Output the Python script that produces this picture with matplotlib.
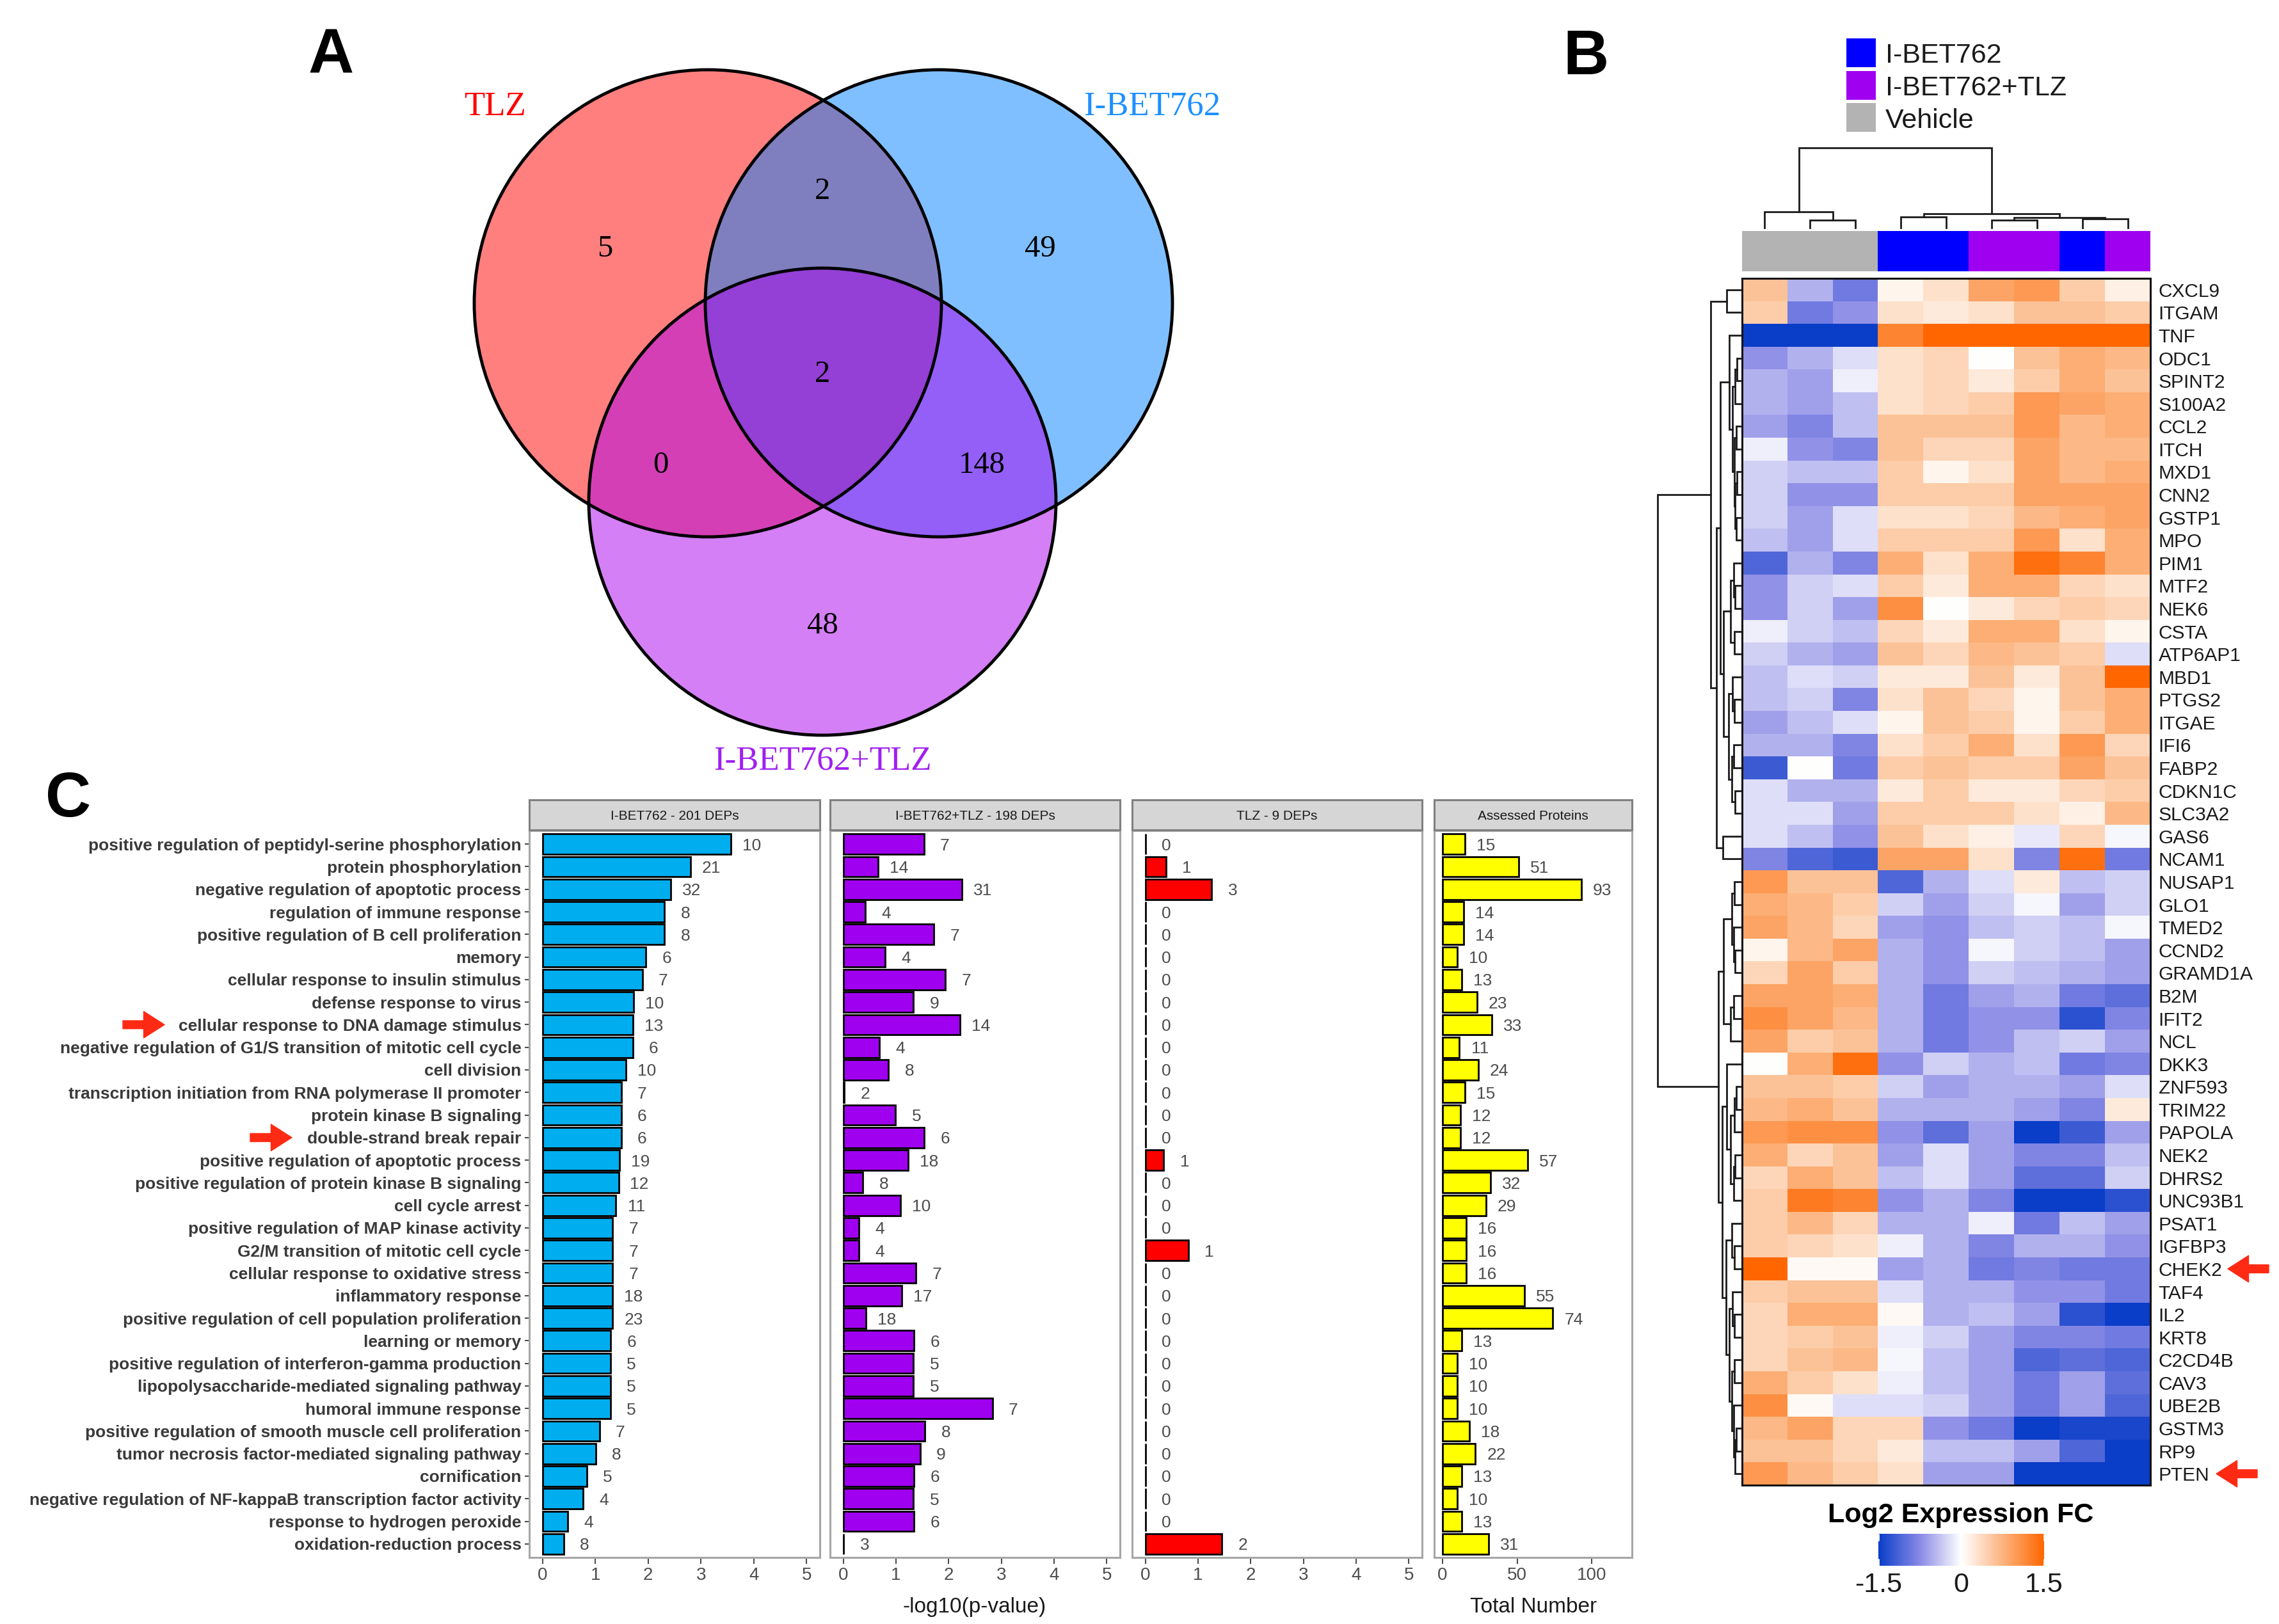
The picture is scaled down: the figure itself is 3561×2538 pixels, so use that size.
import numpy as np
import matplotlib
matplotlib.use('Agg')
import matplotlib.pyplot as plt
from matplotlib.patches import Circle, Rectangle
from matplotlib.colors import LinearSegmentedColormap, ListedColormap
import matplotlib.transforms as mtransforms

plt.rcParams['font.family'] = ['Liberation Sans', 'DejaVu Sans']

# ---------------- data ----------------
# Venn counts
venn_sets = ['TLZ', 'I-BET762', 'I-BET762+TLZ']
only_tlz, only_ibet, only_combo = 5, 49, 48
tlz_ibet, tlz_combo, ibet_combo, all_three = 2, 0, 148, 2

# heatmap
genes = ['CXCL9', 'ITGAM', 'TNF', 'ODC1', 'SPINT2', 'S100A2', 'CCL2', 'ITCH', 'MXD1', 'CNN2',
         'GSTP1', 'MPO', 'PIM1', 'MTF2', 'NEK6', 'CSTA', 'ATP6AP1', 'MBD1', 'PTGS2', 'ITGAE',
         'IFI6', 'FABP2', 'CDKN1C', 'SLC3A2', 'GAS6', 'NCAM1', 'NUSAP1', 'GLO1', 'TMED2', 'CCND2',
         'GRAMD1A', 'B2M', 'IFIT2', 'NCL', 'DKK3', 'ZNF593', 'TRIM22', 'PAPOLA', 'NEK2', 'DHRS2',
         'UNC93B1', 'PSAT1', 'IGFBP3', 'CHEK2', 'TAF4', 'IL2', 'KRT8', 'C2CD4B', 'CAV3', 'UBE2B',
         'GSTM3', 'RP9', 'PTEN']
col_groups = ['Vehicle', 'Vehicle', 'Vehicle', 'I-BET762', 'I-BET762',
              'I-BET762+TLZ', 'I-BET762+TLZ', 'I-BET762', 'I-BET762+TLZ']
hm_values = [
    [0.6, -0.5, -0.9, 0.1, 0.3, 0.9, 1.0, 0.5, 0.15],
    [0.5, -0.9, -0.7, 0.3, 0.2, 0.3, 0.6, 0.6, 0.5],
    [-1.5, -1.5, -1.5, 1.2, 1.5, 1.5, 1.5, 1.5, 1.5],
    [-0.7, -0.5, -0.2, 0.3, 0.4, 0.0, 0.6, 0.8, 0.7],
    [-0.5, -0.6, -0.1, 0.3, 0.4, 0.2, 0.5, 0.8, 0.6],
    [-0.5, -0.6, -0.4, 0.3, 0.4, 0.5, 1.0, 0.9, 0.8],
    [-0.6, -0.8, -0.4, 0.6, 0.6, 0.6, 1.0, 0.7, 0.8],
    [-0.1, -0.7, -0.8, 0.6, 0.4, 0.4, 0.9, 0.7, 0.7],
    [-0.3, -0.4, -0.4, 0.5, 0.1, 0.3, 0.9, 0.7, 0.8],
    [-0.3, -0.7, -0.7, 0.5, 0.5, 0.5, 0.9, 0.9, 0.9],
    [-0.3, -0.6, -0.2, 0.3, 0.3, 0.4, 0.7, 0.8, 0.9],
    [-0.4, -0.6, -0.2, 0.5, 0.5, 0.5, 1.0, 0.3, 0.8],
    [-1.1, -0.5, -0.8, 0.8, 0.3, 0.8, 1.4, 1.2, 0.8],
    [-0.7, -0.3, -0.2, 0.5, 0.2, 0.8, 0.8, 0.4, 0.3],
    [-0.7, -0.3, -0.6, 1.1, 0.0, 0.2, 0.4, 0.5, 0.4],
    [-0.1, -0.3, -0.4, 0.4, 0.2, 0.8, 0.8, 0.3, 0.1],
    [-0.3, -0.5, -0.6, 0.6, 0.4, 0.7, 0.6, 0.5, -0.2],
    [-0.4, -0.2, -0.3, 0.2, 0.2, 0.6, 0.2, 0.6, 1.5],
    [-0.4, -0.3, -0.8, 0.3, 0.6, 0.4, 0.1, 0.6, 0.8],
    [-0.6, -0.4, -0.2, 0.1, 0.6, 0.5, 0.1, 0.5, 0.8],
    [-0.5, -0.5, -0.8, 0.3, 0.5, 0.8, 0.3, 1.0, 0.4],
    [-1.2, 0.0, -0.9, 0.5, 0.6, 0.5, 0.5, 0.9, 0.6],
    [-0.2, -0.5, -0.5, 0.2, 0.5, 0.2, 0.2, 0.4, 0.5],
    [-0.2, -0.2, -0.6, 0.5, 0.5, 0.5, 0.3, 0.15, 0.7],
    [-0.2, -0.4, -0.7, 0.6, 0.3, 0.15, -0.15, 0.4, -0.05],
    [-0.8, -1.1, -1.2, 0.9, 0.9, 0.3, -0.8, 1.4, -0.9],
    [1.0, 0.6, 0.6, -1.1, -0.5, -0.2, 0.2, -0.4, -0.3],
    [0.8, 0.7, 0.5, -0.3, -0.6, -0.3, -0.05, -0.6, -0.3],
    [0.9, 0.7, 0.4, -0.6, -0.7, -0.4, -0.3, -0.4, -0.05],
    [0.1, 0.7, 0.9, -0.5, -0.7, -0.05, -0.3, -0.4, -0.6],
    [0.4, 0.9, 0.5, -0.5, -0.7, -0.3, -0.4, -0.5, -0.6],
    [0.9, 0.9, 0.8, -0.5, -0.9, -0.6, -0.5, -0.9, -1.0],
    [1.1, 0.9, 0.7, -0.5, -0.9, -0.7, -0.7, -1.3, -0.8],
    [0.9, 0.5, 0.6, -0.5, -0.9, -0.7, -0.4, -0.3, -0.6],
    [0.0, 0.8, 1.4, -0.7, -0.3, -0.5, -0.4, -0.9, -0.8],
    [0.6, 0.6, 0.5, -0.3, -0.6, -0.5, -0.5, -0.6, -0.2],
    [0.7, 0.8, 0.6, -0.5, -0.5, -0.5, -0.6, -0.8, 0.2],
    [1.0, 1.1, 1.1, -0.7, -1.0, -0.6, -1.5, -1.2, -0.6],
    [0.8, 0.4, 0.6, -0.6, -0.2, -0.6, -0.8, -0.8, -0.4],
    [0.4, 0.8, 0.6, -0.4, -0.2, -0.6, -1.0, -1.0, -0.3],
    [0.5, 1.3, 1.2, -0.7, -0.5, -0.8, -1.5, -1.5, -1.3],
    [0.5, 0.7, 0.4, -0.5, -0.5, -0.1, -0.9, -0.4, -0.6],
    [0.5, 0.4, 0.3, -0.1, -0.5, -0.8, -0.5, -0.5, -0.7],
    [1.5, 0.05, 0.05, -0.6, -0.5, -0.9, -0.8, -0.9, -0.9],
    [0.5, 0.6, 0.6, -0.2, -0.5, -0.5, -0.7, -0.7, -0.9],
    [0.4, 0.8, 0.8, 0.05, -0.5, -0.4, -0.6, -1.3, -1.5],
    [0.4, 0.5, 0.6, -0.1, -0.3, -0.6, -0.8, -0.8, -0.9],
    [0.4, 0.6, 0.7, -0.05, -0.4, -0.6, -1.1, -1.0, -1.1],
    [0.8, 0.5, 0.3, -0.1, -0.4, -0.6, -0.9, -0.6, -1.0],
    [1.1, 0.05, -0.2, -0.2, -0.3, -0.6, -0.9, -0.6, -1.1],
    [0.7, 0.9, 0.4, 0.4, -0.7, -0.9, -1.5, -1.4, -1.4],
    [0.6, 0.6, 0.4, 0.2, -0.4, -0.4, -0.6, -1.1, -1.5],
    [1.0, 0.7, 0.5, 0.3, -0.6, -0.6, -1.5, -1.5, -1.5],
]
cbar_ticks = [-1.5, 0, 1.5]
cbar_ticklabels = ['-1.5', '0', '1.5']
marked_genes = ['CHEK2', 'PTEN']

# dendrograms: (merge height, left, right), leaves are row / column indices
col_tree = (1.0, (0.2, 0, (0.1, 1, 2)),
            (0.18, (0.14, 3, 4), (0.13, (0.1, 5, 6), (0.11, 7, 8))))
grp_a = (0.13, 2, (0.09, (0.06, (0.04, 3, 4), 5),
                   (0.07, (0.05, 6, 7), (0.06, (0.04, 8, 9), (0.05, 10, 11)))))
grp_b = (0.2, (0.12, (0.08, 12, (0.06, 13, 14)), (0.07, 15, 16)),
         (0.14, (0.09, 17, (0.07, 18, 19)), (0.1, (0.08, 20, 21), (0.06, 22, 23))))
grp_c1 = (0.2, (0.1, (0.07, 26, 27), (0.08, 28, (0.06, 29, 30))), (0.12, (0.08, 31, 32), 33))
grp_c2 = (0.16, 34, (0.12, (0.07, (0.05, 35, 36), 37), (0.08, (0.06, 38, 39), 40)))
grp_c3 = (0.17, (0.1, 41, (0.07, 42, 43)),
          (0.13, (0.09, 44, (0.07, 45, 46)),
           (0.1, (0.07, 47, 48), (0.08, 49, (0.06, (0.05, 50, 51), 52)))))
row_tree = (1.0,
            (0.36, (0.16, 0, 1), (0.29, (0.24, grp_a, grp_b), (0.21, 24, 25))),
            (0.26, grp_c1, (0.22, grp_c2, grp_c3)))

# GO enrichment
go_terms = [
    'positive regulation of peptidyl-serine phosphorylation', 'protein phosphorylation',
    'negative regulation of apoptotic process', 'regulation of immune response',
    'positive regulation of B cell proliferation', 'memory',
    'cellular response to insulin stimulus', 'defense response to virus',
    'cellular response to DNA damage stimulus',
    'negative regulation of G1/S transition of mitotic cell cycle', 'cell division',
    'transcription initiation from RNA polymerase II promoter', 'protein kinase B signaling',
    'double-strand break repair', 'positive regulation of apoptotic process',
    'positive regulation of protein kinase B signaling', 'cell cycle arrest',
    'positive regulation of MAP kinase activity', 'G2/M transition of mitotic cell cycle',
    'cellular response to oxidative stress', 'inflammatory response',
    'positive regulation of cell population proliferation', 'learning or memory',
    'positive regulation of interferon-gamma production',
    'lipopolysaccharide-mediated signaling pathway', 'humoral immune response',
    'positive regulation of smooth muscle cell proliferation',
    'tumor necrosis factor-mediated signaling pathway', 'cornification',
    'negative regulation of NF-kappaB transcription factor activity',
    'response to hydrogen peroxide', 'oxidation-reduction process']
marked_terms = ['cellular response to DNA damage stimulus', 'double-strand break repair']
ibet_logp = [3.57, 2.80, 2.43, 2.31, 2.31, 1.96, 1.89, 1.73, 1.71, 1.71, 1.58, 1.49, 1.49, 1.49,
             1.46, 1.44, 1.39, 1.33, 1.33, 1.33, 1.33, 1.33, 1.29, 1.29, 1.29, 1.29, 1.08, 1.01,
             0.84, 0.77, 0.48, 0.40]
ibet_count = [10, 21, 32, 8, 8, 6, 7, 10, 13, 6, 10, 7, 6, 6, 19, 12, 11, 7, 7, 7, 18, 23, 6, 5,
              5, 5, 7, 8, 5, 4, 4, 8]
combo_logp = [1.53, 0.66, 2.25, 0.42, 1.72, 0.79, 1.94, 1.33, 2.22, 0.68, 0.86, 0.02, 0.99, 1.54,
              1.23, 0.37, 1.08, 0.30, 0.30, 1.38, 1.11, 0.43, 1.34, 1.33, 1.33, 2.83, 1.55, 1.46,
              1.34, 1.33, 1.34, 0.01]
combo_count = [7, 14, 31, 4, 7, 4, 7, 9, 14, 4, 8, 2, 5, 6, 18, 8, 10, 4, 4, 7, 17, 18, 6, 5, 5,
               7, 8, 9, 6, 5, 6, 3]
tlz_logp = [0, 0.39, 1.26, 0, 0, 0, 0, 0, 0, 0, 0, 0, 0, 0, 0.35, 0, 0, 0, 0.82, 0, 0, 0, 0, 0,
            0, 0, 0, 0, 0, 0, 0, 1.45]
tlz_count = [0, 1, 3, 0, 0, 0, 0, 0, 0, 0, 0, 0, 0, 0, 1, 0, 0, 0, 1, 0, 0, 0, 0, 0, 0, 0, 0, 0,
             0, 0, 0, 2]
assessed = [15, 51, 93, 14, 14, 10, 13, 23, 33, 11, 24, 15, 12, 12, 57, 32, 29, 16, 16, 16, 55,
            74, 13, 10, 10, 10, 18, 22, 13, 10, 13, 31]
facet_titles = ['I-BET762 - 201 DEPs', 'I-BET762+TLZ - 198 DEPs', 'TLZ - 9 DEPs',
                'Assessed Proteins']

# ---------------- figure ----------------
W, H = 3561, 2538
fig = plt.figure(figsize=(W / 100, H / 100), dpi=100)
fig.patch.set_facecolor('white')


def rect(x0, y0, x1, y1):
    return [x0 / W, 1 - y1 / H, (x1 - x0) / W, (y1 - y0) / H]


def fig_xy(x, y):
    return x / W, 1 - y / H


RED_ARROW = '#ff2a14'
ARROW_STYLE = 'simple,head_length=0.9,head_width=1.15,tail_width=0.35'

# panel letters
for letter, (lx, ly) in zip('ABC', [(517, 114), (2478, 116), (107, 1276)]):
    fig.text(*fig_xy(lx, ly), letter, fontsize=71, fontweight='bold', ha='center',
             va='baseline', family=['Liberation Sans', 'DejaVu Sans'])

# ---------------- A: Venn ----------------
ax_v = fig.add_axes(rect(650, 40, 1950, 1240))
ax_v.set_xlim(650, 1950)
ax_v.set_ylim(1240, 40)
ax_v.axis('off')
venn_r = 365
venn_centers = [(1106, 474), (1467, 474), (1285, 784)]
venn_fill = ['#ff0000', '#0080ff', '#aa00ee']
venn_label_col = ['#ff0000', '#1e90ff', '#a020f0']
for (cx, cy), col in zip(venn_centers, venn_fill):
    ax_v.add_patch(Circle((cx, cy), venn_r, facecolor=col, alpha=0.5, edgecolor='none'))
for cx, cy in venn_centers:
    ax_v.add_patch(Circle((cx, cy), venn_r, fill=False, edgecolor='black', lw=3.5))

serif = ['Liberation Serif', 'DejaVu Serif']
venn_counts = [only_tlz, tlz_ibet, only_ibet, all_three, tlz_combo, ibet_combo, only_combo]
count_pos = [(945, 384), (1285, 294), (1625, 384), (1285, 580), (1032, 722), (1534, 722),
             (1285, 973)]
for n, (tx, ty) in zip(venn_counts, count_pos):
    ax_v.text(tx, ty, str(n), fontsize=35, ha='center', va='center_baseline', family=serif)
label_pos = [(773, 161), (1800, 161), (1285, 1184)]
for name, (tx, ty), col in zip(venn_sets, label_pos, venn_label_col):
    ax_v.text(tx, ty, name, fontsize=38, ha='center', va='center_baseline', color=col,
              family=serif)

# ---------------- B: heatmap ----------------
hm = np.array(hm_values)
cmap = LinearSegmentedColormap.from_list(
    'fc', [(0.0, '#0a3dc8'), (0.25, '#8a8ae6'), (0.5, '#ffffff'),
           (0.75, '#fcb47f'), (1.0, '#ff6600')])

ax_hm = fig.add_axes(rect(2722, 435, 3360, 2321))
im = ax_hm.imshow(hm, cmap=cmap, vmin=-1.5, vmax=1.5, aspect='auto', interpolation='nearest')
ax_hm.set_xticks([])
ax_hm.yaxis.tick_right()
ax_hm.set_yticks(range(len(genes)))
ax_hm.set_yticklabels(genes, fontsize=21.5, color='#1a1a1a')
ax_hm.tick_params(axis='y', length=0, pad=9)
for s in ax_hm.spines.values():
    s.set_linewidth(2.2)
    s.set_color('#111111')

# column annotation
group_names = ['I-BET762', 'I-BET762+TLZ', 'Vehicle']
group_cols = ['#0000ff', '#a000f0', '#b3b3b3']
ax_ann = fig.add_axes(rect(2722, 361, 3360, 424))
ax_ann.imshow(np.array([[group_names.index(g) for g in col_groups]]),
              cmap=ListedColormap(group_cols), vmin=-0.5, vmax=2.5, aspect='auto',
              interpolation='nearest')
ax_ann.axis('off')


def draw_tree(ax, node, orient):
    if isinstance(node, int):
        return node, 0.0
    h, left, right = node
    p1, h1 = draw_tree(ax, left, orient)
    p2, h2 = draw_tree(ax, right, orient)
    if orient == 'top':
        xs, ys = [p1, p1, p2, p2], [h1, h, h, h2]
    else:
        xs, ys = [h1, h, h, h2], [p1, p1, p2, p2]
    ax.plot(xs, ys, color='#1a1a1a', lw=2, clip_on=False, solid_joinstyle='miter')
    return (p1 + p2) / 2, h


ax_cd = fig.add_axes(rect(2722, 231, 3360, 356))
ax_cd.set_xlim(-0.5, len(col_groups) - 0.5)
ax_cd.set_ylim(0, 1.0)
ax_cd.axis('off')
draw_tree(ax_cd, col_tree, 'top')

ax_rd = fig.add_axes(rect(2590, 435, 2719, 2321))
ax_rd.set_ylim(len(genes) - 0.5, -0.5)
ax_rd.set_xlim(1.0, 0)
ax_rd.axis('off')
draw_tree(ax_rd, row_tree, 'left')

# group legend
ax_leg = fig.add_axes(rect(2880, 50, 3320, 215))
ax_leg.set_xlim(2880, 3320)
ax_leg.set_ylim(215, 50)
ax_leg.axis('off')
for i, (name, col) in enumerate(zip(group_names, group_cols)):
    y0 = 60 + 50.5 * i
    ax_leg.add_patch(Rectangle((2885, y0), 46, 45, facecolor=col, edgecolor='none'))
    ax_leg.text(2946, y0 + 23, name, fontsize=31, va='center_baseline', ha='left',
                color='#1a1a1a')

# colorbar
cax = fig.add_axes(rect(2935, 2397, 3194, 2447))
cb = fig.colorbar(im, cax=cax, orientation='horizontal', ticks=cbar_ticks)
cb.outline.set_visible(False)
cb.set_ticklabels(cbar_ticklabels)
cax.tick_params(labelsize=31, length=8, width=2, color='white', direction='in',
                top=True, pad=7, labelcolor='#1a1a1a')
fig.text(*fig_xy(3064, 2364), 'Log2 Expression FC', fontsize=31, fontweight='bold',
         ha='center', va='center_baseline')

# arrows at marked genes
hm_trans = mtransforms.blended_transform_factory(fig.transFigure, ax_hm.transData)
for g, (x_tail, x_tip) in zip(marked_genes, [(3545, 3481), (3527, 3463)]):
    r = genes.index(g)
    ax_hm.annotate('', xy=(x_tip / W, r), xytext=(x_tail / W, r), xycoords=hm_trans,
                   textcoords=hm_trans, annotation_clip=False,
                   arrowprops=dict(arrowstyle=ARROW_STYLE, color=RED_ARROW,
                                   mutation_scale=26, shrinkA=0, shrinkB=0))

# ---------------- C: GO bar facets ----------------
facet_x = [(827, 1281), (1297, 1750), (1769, 2222), (2241, 2550)]
facet_vals = [ibet_logp, combo_logp, tlz_logp, assessed]
facet_counts = [ibet_count, combo_count, tlz_count, assessed]
facet_cols = ['#00aeef', '#a000f0', '#ff0000', '#ffff00']
facet_xlim = [(-0.25, 5.25), (-0.25, 5.25), (-0.25, 5.25), (-5.6, 127)]
facet_xticks = [[0, 1, 2, 3, 4, 5]] * 3 + [[0, 50, 100]]
ypos = np.arange(len(go_terms))

axes_c = []
for k, (x0, x1) in enumerate(facet_x):
    ax = fig.add_axes(rect(x0, 1298, x1, 2434))
    ax.barh(ypos, facet_vals[k], height=0.9, color=facet_cols[k], edgecolor='black',
            linewidth=2)
    for i, n in enumerate(facet_counts[k]):
        ax.annotate(str(n), xy=(facet_vals[k][i], i), xytext=(23.5, 0),
                    textcoords='offset points', ha='center', va='center_baseline',
                    fontsize=19, color='#4d4d4d')
    ax.set_ylim(len(go_terms) - 0.4, -0.6)
    ax.set_xlim(*facet_xlim[k])
    ax.set_xticks(facet_xticks[k])
    ax.tick_params(axis='x', length=7, width=1.5, color='#4d4d4d', labelsize=20,
                   labelcolor='#4d4d4d', pad=4)
    if k == 0:
        ax.set_yticks(ypos)
        ax.set_yticklabels(go_terms, fontsize=19, fontweight='bold', color='#3a3a3a')
        ax.tick_params(axis='y', length=5, width=1.5, color='#4d4d4d', pad=4)
    else:
        ax.set_yticks([])
    for s in ax.spines.values():
        s.set_color('#a6a6a6')
        s.set_linewidth(2.2)
    axes_c.append(ax)

    st = fig.add_axes(rect(x0, 1250, x1, 1297))
    st.set_facecolor('#d6d6d6')
    st.set_xticks([])
    st.set_yticks([])
    for s in st.spines.values():
        s.set_color('#808080')
        s.set_linewidth(2.2)
    st.text(0.5, 0.5, facet_titles[k], transform=st.transAxes, ha='center',
            va='center_baseline', fontsize=15, color='#1a1a1a')

fig.text(*fig_xy(1523, 2508), '-log10(p-value)', fontsize=24, ha='center',
         va='center_baseline', color='#1a1a1a')
fig.text(*fig_xy(2396, 2508), 'Total Number', fontsize=24, ha='center',
         va='center_baseline', color='#1a1a1a')

# arrows at marked GO terms
go_trans = mtransforms.blended_transform_factory(fig.transFigure, axes_c[0].transData)
for t, (x_tail, x_tip) in zip(marked_terms, [(192, 257), (391, 456)]):
    r = go_terms.index(t)
    axes_c[0].annotate('', xy=(x_tip / W, r), xytext=(x_tail / W, r), xycoords=go_trans,
                       textcoords=go_trans, annotation_clip=False,
                       arrowprops=dict(arrowstyle=ARROW_STYLE, color=RED_ARROW,
                                       mutation_scale=26, shrinkA=0, shrinkB=0))

fig.savefig('out.png', dpi=100, facecolor='white')
